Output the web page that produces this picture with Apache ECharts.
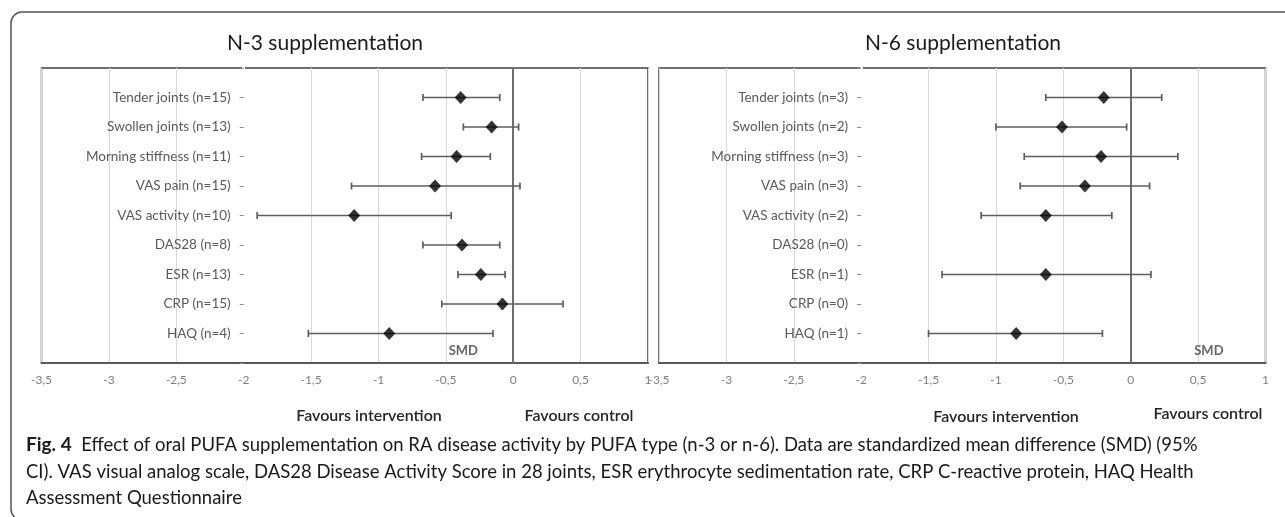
<!DOCTYPE html>
<html>
<head>
<meta charset="utf-8">
<script src="https://cdn.jsdelivr.net/npm/echarts@6/dist/echarts.min.js"></script>
<style>
html,body{margin:0;padding:0;background:#fff;}
#chart{width:1285px;height:517px;}
</style>
</head>
<body>
<div id="chart"></div>
<script>
// ---- data ----
const categories = ['Tender joints', 'Swollen joints', 'Morning stiffness', 'VAS pain', 'VAS activity', 'DAS28', 'ESR', 'CRP', 'HAQ'];
const n3Counts = [15, 13, 11, 15, 10, 8, 13, 15, 4];
const n6Counts = [3, 2, 3, 3, 2, 0, 1, 0, 1];
const n3Smd = [-0.39, -0.16, -0.42, -0.58, -1.18, -0.38, -0.24, -0.08, -0.92];
const n3Lo  = [-0.67, -0.37, -0.68, -1.20, -1.90, -0.67, -0.41, -0.53, -1.52];
const n3Hi  = [-0.10,  0.04, -0.17,  0.05, -0.46, -0.10, -0.06,  0.37, -0.15];
const n6Smd = [-0.20, -0.51, -0.22, -0.34, -0.63, null, -0.63, null, -0.85];
const n6Lo  = [-0.63, -1.00, -0.79, -0.82, -1.11, null, -1.40, null, -1.50];
const n6Hi  = [ 0.23, -0.03,  0.35,  0.14, -0.14, null,  0.15, null, -0.21];
const xTickValues = [-3.5, -3, -2.5, -2, -1.5, -1, -0.5, 0, 0.5, 1];
const xTickLabels = ['-3,5', '-3', '-2,5', '-2', '-1,5', '-1', '-0,5', '0', '0,5', '1'];
const panelTitles = ['N-3 supplementation', 'N-6 supplementation'];
const smdLabelPos = [[-0.37, 0.41], [0.58, 0.41]];

const FONT = 'Lato';
const chart = echarts.init(document.getElementById('chart'));

function rowY(i) { return categories.length - i; }

function makeAxes(idx, counts) {
  const xAxis = {
    type: 'value', gridIndex: idx, min: -3.5, max: 1, interval: 0.5,
    axisLine: { show: true, onZero: false, lineStyle: { color: '#595959', width: 2 } },
    axisTick: { show: false },
    splitLine: { show: true, lineStyle: { color: '#d9d9d9', width: 1 } },
    axisLabel: {
      color: '#7f7f7f', fontFamily: FONT, fontSize: 12, margin: 11,
      formatter: function (v) {
        const k = xTickValues.findIndex(t => Math.abs(t - v) < 1e-9);
        return k >= 0 ? xTickLabels[k] : '';
      }
    }
  };
  const yAxis = {
    type: 'value', gridIndex: idx, min: 0, max: 10, interval: 1,
    position: 'left', offset: -202.2,
    axisLine: { show: true, onZero: false, lineStyle: { color: '#ffffff', width: 3 } },
    axisTick: { show: true, length: 4, lineStyle: { color: '#8c8c8c', width: 1 } },
    splitLine: { show: false },
    axisLabel: {
      color: '#595959', fontFamily: FONT, fontSize: 13.5, margin: 13,
      formatter: function (v) {
        const i = categories.length - v;
        if (v >= 1 && v <= categories.length) return categories[i] + ' (n=' + counts[i] + ')';
        return '';
      }
    }
  };
  return { xAxis, yAxis };
}

function barData(lo, hi) {
  const out = [];
  for (let i = 0; i < categories.length; i++) {
    if (lo[i] !== null && hi[i] !== null) out.push([lo[i], hi[i], rowY(i)]);
  }
  return out;
}
function pointData(m) {
  const out = [];
  for (let i = 0; i < categories.length; i++) {
    if (m[i] !== null) out.push([m[i], rowY(i)]);
  }
  return out;
}

function errRender(params, api) {
  const y = api.value(2);
  const a = api.coord([api.value(0), y]);
  const b = api.coord([api.value(1), y]);
  const c = 3.5;
  const st = { stroke: '#5e5e5e', lineWidth: 1.7 };
  return {
    type: 'group',
    children: [
      { type: 'line', shape: { x1: a[0], y1: a[1], x2: b[0], y2: b[1] }, style: st },
      { type: 'line', shape: { x1: a[0], y1: a[1] - c, x2: a[0], y2: a[1] + c }, style: st },
      { type: 'line', shape: { x1: b[0], y1: b[1] - c, x2: b[0], y2: b[1] + c }, style: st }
    ]
  };
}

const ax0 = makeAxes(0, n3Counts);
const ax1 = makeAxes(1, n6Counts);

function panelSeries(idx, m, lo, hi) {
  return [
    {
      type: 'custom', xAxisIndex: idx, yAxisIndex: idx,
      renderItem: errRender, encode: { x: [0, 1], y: 2 },
      data: barData(lo, hi), z: 3, silent: true,
      markLine: {
        silent: true, symbol: 'none', label: { show: false },
        lineStyle: { color: '#6e6e6e', width: 2, type: 'solid' },
        data: [{ xAxis: 0 }], z: 2
      }
    },
    {
      type: 'scatter', xAxisIndex: idx, yAxisIndex: idx,
      symbol: 'diamond', symbolSize: [12, 13],
      itemStyle: { color: '#000000' },
      data: pointData(m), z: 4
    },
    {
      type: 'scatter', xAxisIndex: idx, yAxisIndex: idx,
      symbolSize: 0, data: [smdLabelPos[idx]], silent: true,
      label: { show: true, position: 'inside', formatter: 'SMD', color: '#404040',
               fontFamily: FONT, fontWeight: 'bold', fontSize: 13 }
    }
  ];
}

const option = {
  backgroundColor: '#ffffff',
  animation: false,
  grid: [
    { left: 41.5, top: 68, width: 606.5, height: 295, show: true, borderColor: '#404040', borderWidth: 1.5, backgroundColor: 'transparent' },
    { left: 659, top: 68, width: 606.5, height: 295, show: true, borderColor: '#404040', borderWidth: 1.5, backgroundColor: 'transparent' }
  ],
  xAxis: [ax0.xAxis, ax1.xAxis],
  yAxis: [ax0.yAxis, ax1.yAxis],
  series: [].concat(panelSeries(0, n3Smd, n3Lo, n3Hi), panelSeries(1, n6Smd, n6Lo, n6Hi)),
  graphic: [
    { type: 'rect', shape: { x: 11, y: 12, width: 1300, height: 508, r: 11 },
      style: { fill: 'none', stroke: '#555555', lineWidth: 1.5 }, z: 0, silent: true },
    { type: 'text', x: 325, y: 43, style: { text: panelTitles[0], fill: '#1a1a1a', font: '21px Lato', textAlign: 'center', textVerticalAlign: 'middle' } },
    { type: 'text', x: 963, y: 43, style: { text: panelTitles[1], fill: '#1a1a1a', font: '21px Lato', textAlign: 'center', textVerticalAlign: 'middle' } },
    { type: 'text', x: 369, y: 416, style: { text: 'Favours intervention', fill: '#262626', font: '600 16px Lato', textAlign: 'center', textVerticalAlign: 'middle' } },
    { type: 'text', x: 579, y: 416, style: { text: 'Favours control', fill: '#262626', font: '600 16px Lato', textAlign: 'center', textVerticalAlign: 'middle' } },
    { type: 'text', x: 1006, y: 417, style: { text: 'Favours intervention', fill: '#262626', font: '600 16px Lato', textAlign: 'center', textVerticalAlign: 'middle' } },
    { type: 'text', x: 1208, y: 414, style: { text: 'Favours control', fill: '#262626', font: '600 16px Lato', textAlign: 'center', textVerticalAlign: 'middle' } },
    { type: 'text', x: 26, y: 445, style: {
        text: '{b|Fig. 4}  Effect of oral PUFA supplementation on RA disease activity by PUFA type (n-3 or n-6). Data are standardized mean difference (SMD) (95%',
        fill: '#1a1a1a', font: '18.5px Lato', textVerticalAlign: 'middle',
        rich: { b: { font: 'bold 19px Lato', fill: '#1a1a1a' } } } },
    { type: 'text', x: 26, y: 472, style: {
        text: 'CI). VAS visual analog scale, DAS28 Disease Activity Score in 28 joints, ESR erythrocyte sedimentation rate, CRP C-reactive protein, HAQ Health',
        fill: '#1a1a1a', font: '18.5px Lato', textVerticalAlign: 'middle' } },
    { type: 'text', x: 26, y: 498, style: {
        text: 'Assessment Questionnaire',
        fill: '#1a1a1a', font: '18.5px Lato', textVerticalAlign: 'middle' } }
  ]
};
chart.setOption(option);
</script>
</body>
</html>
